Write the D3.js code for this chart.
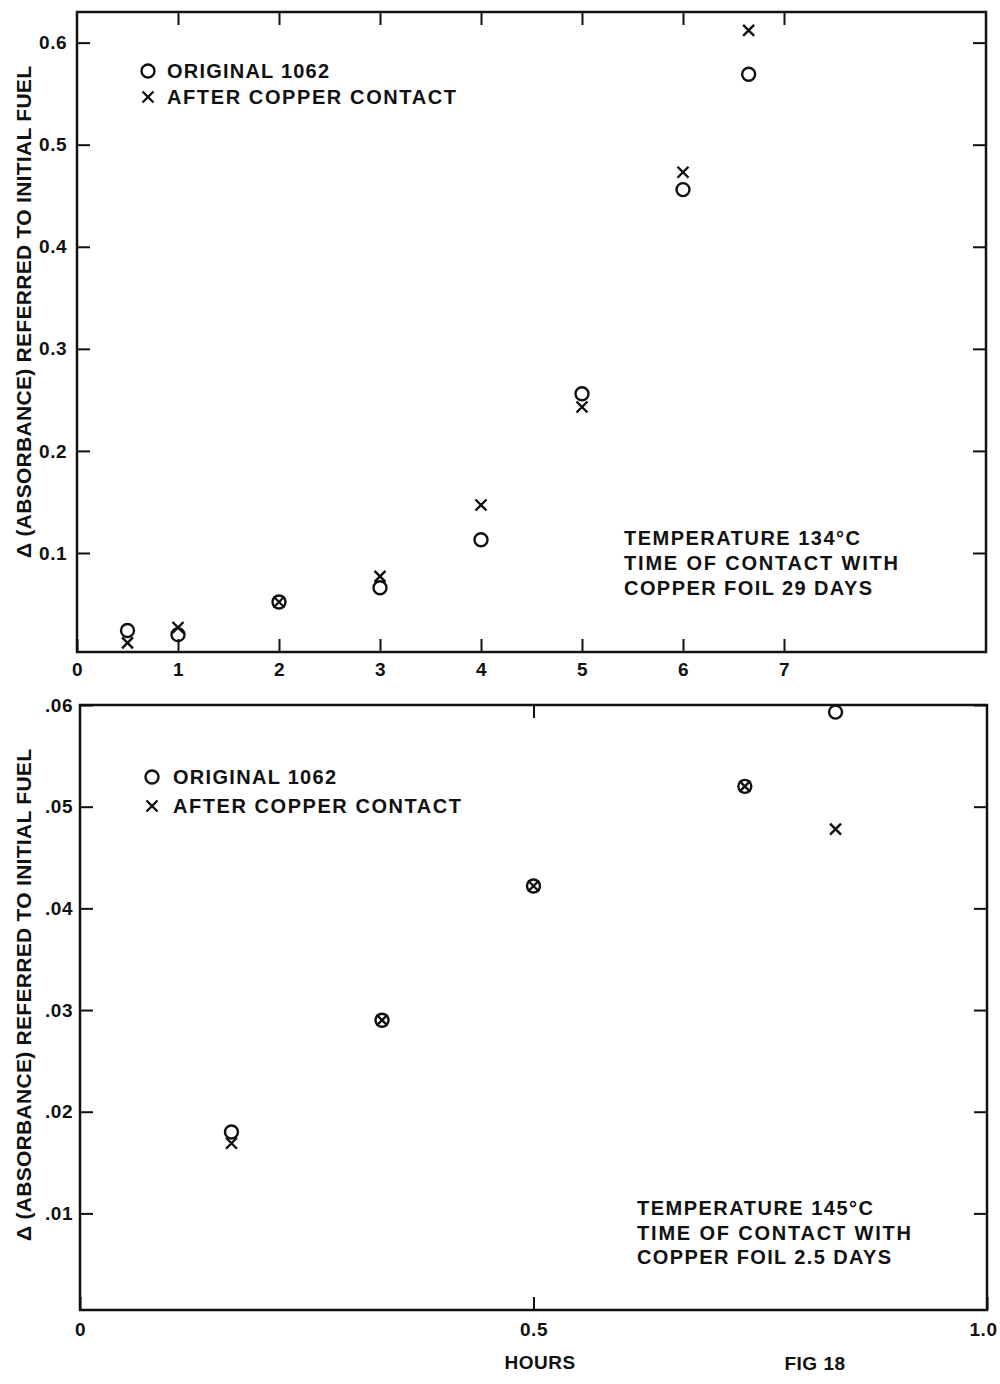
<!DOCTYPE html>
<html>
<head>
<meta charset="utf-8">
<title>Fig 18</title>
<script src="https://d3js.org/d3.v7.min.js"></script>
<style>
  body { margin: 0; background: #fff; }
  text { font-family: "Liberation Sans", Arial, sans-serif; font-weight: bold; fill: #111; }
  .frame { fill: none; stroke: #111; stroke-width: 2.5; }
  .tick line { stroke: #111; stroke-width: 2; }
  .mark { fill: none; stroke: #111; stroke-width: 2.4; }
</style>
</head>
<body>
<script>
// upper panel: 134 C, foil contact 29 days
const topHours    = [0.5, 1, 2, 3, 4, 5, 6, 6.65];
const topOriginal = [0.024, 0.020, 0.052, 0.066, 0.113, 0.256, 0.456, 0.569];
const topAfter    = [0.012, 0.027, 0.052, 0.077, 0.147, 0.243, 0.473, 0.612];
const topYTicks   = [0.1, 0.2, 0.3, 0.4, 0.5, 0.6];
const topXTicks   = [0, 1, 2, 3, 4, 5, 6, 7];
const topNotes    = ["TEMPERATURE 134°C", "TIME OF CONTACT WITH", "COPPER FOIL 29 DAYS"];

// lower panel: 145 C, foil contact 2.5 days
const botHours    = [0.167, 0.333, 0.5, 0.733, 0.833];
const botOriginal = [0.0180, 0.0290, 0.0422, 0.0520, 0.0593];
const botAfter    = [0.0169, 0.0290, 0.0422, 0.0520, 0.0478];
const botYTicks   = [0.01, 0.02, 0.03, 0.04, 0.05, 0.06];
const botXTicks   = [0, 0.5, 1.0];
const botNotes    = ["TEMPERATURE 145°C", "TIME OF CONTACT WITH", "COPPER FOIL 2.5 DAYS"];

const legendLabels = ["ORIGINAL 1062", "AFTER COPPER CONTACT"];
const yTitle = "Δ (ABSORBANCE) REFERRED TO INITIAL FUEL";

const svg = d3.select("body").append("svg")
  .attr("width", 1000)
  .attr("height", 1384);

svg.append("rect").attr("width", 1000).attr("height", 1384).attr("fill", "#fff");

function crossPath(s) {
  return `M${-s},${-s}L${s},${s}M${-s},${s}L${s},${-s}`;
}

function panel(p) {
  const x = d3.scaleLinear().domain(p.xDomain).range([p.left, p.right]);
  const y = d3.scaleLinear().domain(p.yDomain).range([p.bottom, p.top]);
  const g = svg.append("g");

  g.append("rect").attr("class", "frame")
    .attr("x", p.left).attr("y", p.top)
    .attr("width", p.right - p.left).attr("height", p.bottom - p.top);

  const styleAxis = sel => {
    sel.select(".domain").remove();
    sel.attr("font-family", null).attr("font-size", null);
    sel.selectAll("text").style("font-size", "19px").style("letter-spacing", "0.5px").attr("fill", "#111");
  };

  g.append("g").attr("transform", `translate(${p.left},0)`)
    .call(d3.axisLeft(y).tickValues(p.yTicks).tickSizeInner(-13).tickSizeOuter(0)
      .tickPadding(p.yPad).tickFormat(p.yFormat))
    .call(styleAxis);

  g.append("g").attr("transform", `translate(${p.right},0)`)
    .call(d3.axisRight(y).tickValues(p.yTicks).tickSizeInner(-13).tickSizeOuter(0).tickFormat(""))
    .call(styleAxis);

  const bottomAxis = g.append("g").attr("transform", `translate(0,${p.bottom})`)
    .call(d3.axisBottom(x).tickValues(p.xTicks).tickSizeInner(-13).tickSizeOuter(0)
      .tickPadding(p.xPad).tickFormat(p.xFormat))
    .call(styleAxis);
  // keep a label sitting on the right edge inside the page
  bottomAxis.selectAll("text").filter(d => d === p.xDomain[1]).attr("dx", -4);

  g.append("g").attr("transform", `translate(0,${p.top})`)
    .call(d3.axisTop(x).tickValues(p.topTicks).tickSizeInner(-13).tickSizeOuter(0).tickFormat(""))
    .call(styleAxis);

  // y title
  g.append("text")
    .attr("transform", `translate(31,${p.titleMid}) rotate(-90)`)
    .attr("text-anchor", "middle")
    .attr("textLength", 492).attr("lengthAdjust", "spacing")
    .style("font-size", "21px")
    .text(yTitle);

  // points
  g.selectAll(".orig").data(p.hours).join("circle")
    .attr("class", "mark")
    .attr("cx", d => x(d)).attr("cy", (d, i) => y(p.original[i])).attr("r", 6.5);
  g.selectAll(".after").data(p.hours).join("path")
    .attr("class", "mark")
    .attr("transform", (d, i) => `translate(${x(d)},${y(p.after[i])})`)
    .attr("d", crossPath(5.5));

  // legend
  const lg = g.append("g").attr("transform", `translate(${p.legX},${p.legY})`);
  lg.append("circle").attr("class", "mark").attr("cx", 0).attr("cy", 0).attr("r", 6.5);
  lg.append("path").attr("class", "mark").attr("transform", `translate(0,${p.legGap})`).attr("d", crossPath(5.5));
  lg.selectAll("text").data(legendLabels).join("text")
    .attr("x", p.legTextDx).attr("y", (d, i) => i * p.legGap + 7)
    .attr("textLength", (d, i) => p.legWidths[i]).attr("lengthAdjust", "spacing")
    .style("font-size", "20px")
    .text(d => d);

  // note block
  g.selectAll(".note").data(p.notes).join("text")
    .attr("x", p.noteX).attr("y", (d, i) => p.noteY + i * p.noteGap + 7)
    .attr("textLength", (d, i) => p.noteWidths[i]).attr("lengthAdjust", "spacing")
    .style("font-size", "20px")
    .text(d => d);
}

panel({
  left: 77, right: 986, top: 12, bottom: 652,
  xDomain: [0, 9], yDomain: [0.003, 0.63],
  yTicks: topYTicks, xTicks: topXTicks, topTicks: [1, 2, 3, 4, 5, 6, 7],
  yFormat: d3.format(".1f"), xFormat: d3.format("d"),
  yPad: 10, xPad: 11,
  titleMid: 312,
  hours: topHours, original: topOriginal, after: topAfter,
  legX: 148, legY: 71, legGap: 26, legTextDx: 19, legWidths: [162, 289],
  notes: topNotes, noteX: 624, noteY: 538, noteGap: 25, noteWidths: [236, 274, 248]
});

panel({
  left: 80, right: 987, top: 705, bottom: 1310,
  xDomain: [0, 1], yDomain: [0.0005, 0.06],
  yTicks: botYTicks, xTicks: botXTicks, topTicks: [0.5],
  yFormat: d => d3.format(".2f")(d).replace(/^0/, ""), xFormat: d => d === 0 ? "0" : d3.format(".1f")(d),
  yPad: 7, xPad: 13,
  titleMid: 995,
  hours: botHours, original: botOriginal, after: botAfter,
  legX: 152, legY: 777, legGap: 29, legTextDx: 21, legWidths: [163, 288],
  notes: botNotes, noteX: 637, noteY: 1208, noteGap: 24.5, noteWidths: [236, 274, 254]
});

svg.append("text").attr("x", 540).attr("y", 1369)
  .attr("text-anchor", "middle").style("font-size", "19px").style("letter-spacing", "0.5px")
  .text("HOURS");
svg.append("text").attr("x", 815).attr("y", 1370)
  .attr("text-anchor", "middle").style("font-size", "19px").style("letter-spacing", "0.5px")
  .text("FIG 18");
</script>
</body>
</html>
